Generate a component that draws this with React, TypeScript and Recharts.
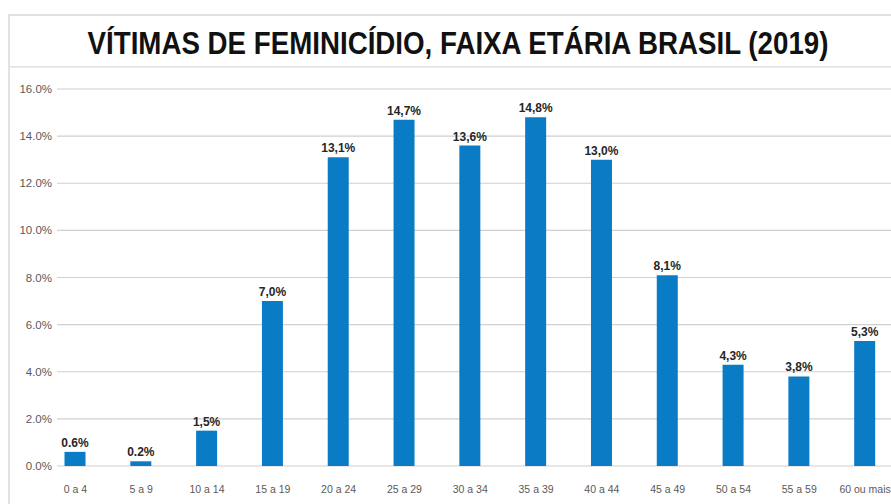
import { BarChart, Bar, XAxis, YAxis, CartesianGrid, LabelList } from "recharts";

const faixas = [
  "0 a 4", "5 a 9", "10 a 14", "15 a 19", "20 a 24", "25 a 29", "30 a 34",
  "35 a 39", "40 a 44", "45 a 49", "50 a 54", "55 a 59", "60 ou mais",
];
const percentuais = [0.6, 0.2, 1.5, 7.0, 13.1, 14.7, 13.6, 14.8, 13.0, 8.1, 4.3, 3.8, 5.3];
const rotulos = [
  "0.6%", "0.2%", "1,5%", "7,0%", "13,1%", "14,7%", "13,6%", "14,8%", "13,0%",
  "8,1%", "4,3%", "3,8%", "5,3%",
];
const yTicks = [0, 2, 4, 6, 8, 10, 12, 14, 16];

const data = faixas.map((faixa, i) => ({
  faixa,
  valor: percentuais[i],
  rotulo: rotulos[i],
}));

const BLUE = "#0a7cc6";
const TITLE_SCALE = 0.894;

// grid lines start a bit right of the band range, like the original
const gridLine = (props: any) => (
  <line
    key={`g-${props.y1}`}
    x1={57}
    x2={props.x2}
    y1={props.y1}
    y2={props.y2}
    stroke="#d0d0d0"
    strokeWidth={1.2}
  />
);

export default function App() {
  return (
    <div
      style={{
        position: "absolute",
        left: 0,
        top: 0,
        width: 891,
        height: 504,
        overflow: "hidden",
        background: "#fff",
        fontFamily: "'Liberation Sans', Arial, sans-serif",
      }}
    >
      {/* title box */}
      <div
        style={{
          position: "absolute",
          left: 8,
          top: 14,
          width: 920,
          height: 50,
          border: "2px solid #e2e2e2",
        }}
      />
      <svg
        width={891}
        height={80}
        style={{ position: "absolute", left: 0, top: 0 }}
      >
        <text
          x={458 / TITLE_SCALE}
          y={54}
          textAnchor="middle"
          transform={`scale(${TITLE_SCALE},1)`}
          fontFamily="'Liberation Sans', Arial, sans-serif"
          fontWeight="bold"
          fontSize={31}
          fill="#111"
        >
          VÍTIMAS DE FEMINICÍDIO, FAIXA ETÁRIA BRASIL (2019)
        </text>
      </svg>

      {/* chart panel */}
      <div
        style={{
          position: "absolute",
          left: 8,
          top: 67,
          width: 920,
          height: 460,
          borderLeft: "2px solid #e2e2e2",
          borderTop: "1px solid #ececec",
        }}
      />

      <div style={{ position: "absolute", left: 0, top: 0 }}>
        <BarChart
          width={891}
          height={504}
          data={data}
          margin={{ top: 89, right: 0, bottom: 6, left: 0 }}
        >
          <CartesianGrid vertical={false} horizontal={gridLine} />
          <XAxis
            dataKey="faixa"
            axisLine={false}
            tickLine={false}
            height={32}
            tickMargin={14}
            padding={{ left: -14.5, right: -7 }}
            interval={0}
            tick={{ fontSize: 10.5, fill: "#595959" }}
          />
          <YAxis
            width={57}
            domain={[0, 16]}
            ticks={yTicks}
            axisLine={false}
            tickLine={false}
            tickSize={0}
            tickMargin={5}
            tickFormatter={(v: number) => `${v.toFixed(1)}%`}
            tick={{ fontSize: 11.5, fill: "#595959" }}
          />
          <Bar dataKey="valor" fill={BLUE} barSize={21} isAnimationActive={false}>
            <LabelList
              dataKey="rotulo"
              position="top"
              offset={5}
              style={{ fontSize: 12, fontWeight: "bold", fill: "#262626" }}
            />
          </Bar>
        </BarChart>
      </div>
    </div>
  );
}
